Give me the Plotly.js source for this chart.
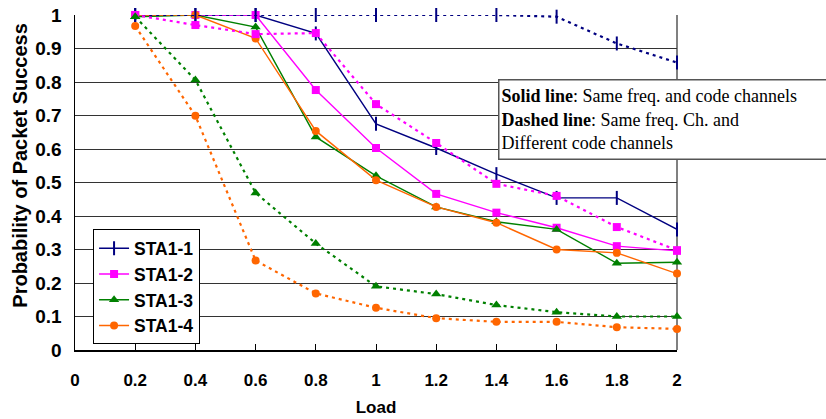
<!DOCTYPE html>
<html>
<head>
<meta charset="utf-8">
<script src="https://cdn.plot.ly/plotly-3.0.1.min.js"></script>
<style>html,body{margin:0;padding:0;background:#fff;}#chart{width:826px;height:419px;}</style>
</head>
<body>
<div id="chart"></div>
<script>
var loads = [0.2, 0.4, 0.6, 0.8, 1.0, 1.2, 1.4, 1.6, 1.8, 2.0];
var seriesNames = ["STA1-1", "STA1-2", "STA1-3", "STA1-4"];

// Solid line: same freq. and code channels
var sta1_1_solid = [1.0, 1.0, 1.0, 0.945, 0.675, 0.603, 0.525, 0.454, 0.454, 0.36];
var sta1_2_solid = [1.0, 1.0, 1.0, 0.776, 0.603, 0.466, 0.41, 0.365, 0.31, 0.296];
var sta1_3_solid = [0.995, 1.0, 0.964, 0.636, 0.52, 0.427, 0.383, 0.36, 0.259, 0.262];
var sta1_4_solid = [1.0, 1.0, 0.93, 0.654, 0.507, 0.427, 0.38, 0.30, 0.29, 0.228];

// Dashed line: same freq. Ch. and different code channels
var sta1_1_dashed = [1.0, 1.0, 1.0, 1.0, 1.0, 1.0, 1.0, 0.995, 0.915, 0.858];
var sta1_2_dashed = [1.0, 0.97, 0.943, 0.946, 0.734, 0.618, 0.496, 0.46, 0.367, 0.298];
var sta1_3_dashed = [0.995, 0.806, 0.469, 0.318, 0.19, 0.167, 0.134, 0.113, 0.10, 0.10];
var sta1_4_dashed = [0.967, 0.699, 0.267, 0.169, 0.126, 0.095, 0.084, 0.084, 0.068, 0.063];

var xTickVals = [0, 0.2, 0.4, 0.6, 0.8, 1, 1.2, 1.4, 1.6, 1.8, 2];
var xTickText = ["0", "0.2", "0.4", "0.6", "0.8", "1", "1.2", "1.4", "1.6", "1.8", "2"];
var yTickVals = [0, 0.1, 0.2, 0.3, 0.4, 0.5, 0.6, 0.7, 0.8, 0.9, 1];
var yTickText = ["0", "0.1", "0.2", "0.3", "0.4", "0.5", "0.6", "0.7", "0.8", "0.9", "1"];

var colors = ["#000080", "#FF00FF", "#008000", "#FF6600"];
var markers = [
  {symbol: "line-ns-open", size: 10, color: colors[0], line: {width: 2, color: colors[0]}},
  {symbol: "square", size: 8, color: colors[1]},
  {symbol: "triangle-up", size: 9, color: colors[2]},
  {symbol: "circle", size: 8, color: colors[3]}
];
var solids = [sta1_1_solid, sta1_2_solid, sta1_3_solid, sta1_4_solid];
var dashed = [sta1_1_dashed, sta1_2_dashed, sta1_3_dashed, sta1_4_dashed];

var traces = [];
for (var i = 0; i < 4; i++) {
  traces.push({
    x: loads, y: solids[i], name: seriesNames[i], legendgroup: seriesNames[i],
    mode: "lines+markers", type: "scatter", cliponaxis: false,
    line: {color: colors[i], width: 1.4},
    marker: markers[i]
  });
}
for (var j = 0; j < 4; j++) {
  traces.push({
    x: loads, y: dashed[j], name: seriesNames[j], legendgroup: seriesNames[j],
    showlegend: false,
    mode: "lines+markers", type: "scatter", cliponaxis: false,
    line: {color: colors[j], width: 2.2, dash: "3px,4px"},
    marker: markers[j]
  });
}

var fontFam = "Arial, 'Liberation Sans', sans-serif";
var layout = {
  width: 826, height: 419,
  margin: {l: 75, r: 149, t: 15, b: 69, pad: 0},
  paper_bgcolor: "#fff", plot_bgcolor: "#fff",
  font: {family: fontFam, color: "#000"},
  showlegend: true,
  xaxis: {
    range: [0, 2], tickvals: xTickVals, ticktext: xTickText,
    ticks: "inside", ticklen: 6, tickwidth: 1, tickcolor: "#000",
    showgrid: false, zeroline: false,
    showline: true, linecolor: "#000", linewidth: 1.5,
    tickfont: {family: fontFam, size: 17, weight: "bold", color: "#000"},
    ticklabelstandoff: 14,
    title: {text: "Load", font: {family: fontFam, size: 17, weight: "bold", color: "#000"}, standoff: 12},
    automargin: false, fixedrange: true
  },
  yaxis: {
    range: [0, 1], tickvals: yTickVals, ticktext: yTickText,
    ticks: "", showgrid: true, gridcolor: "#333", gridwidth: 1,
    zeroline: false, showline: true, linecolor: "#000", linewidth: 1.5,
    tickfont: {family: fontFam, size: 19, weight: "bold", color: "#000"},
    ticklabelstandoff: 8,
    title: {text: ""},
    automargin: false, fixedrange: true
  },
  legend: {
    x: 0.03, y: 0.36, xanchor: "left", yanchor: "top",
    bgcolor: "#fff", bordercolor: "#000", borderwidth: 1,
    font: {family: fontFam, size: 17.5, weight: "bold", color: "#000"},
    itemwidth: 30, tracegroupgap: 0
  },
  shapes: [
    {type: "line", xref: "paper", yref: "paper", x0: 1, x1: 1, y0: 0, y1: 1,
     line: {color: "#808080", width: 2}, layer: "below"}
  ],
  annotations: [
    {
      xref: "paper", yref: "paper", x: -0.092, y: 0.552, xanchor: "center", yanchor: "middle",
      showarrow: false, textangle: -90,
      font: {family: fontFam, size: 20, weight: "bold", color: "#000"},
      text: "Probability of Packet Success"
    },
    {
      xref: "paper", yref: "paper", x: 0.703, y: 0.809, xanchor: "left", yanchor: "top",
      showarrow: false, align: "left", valign: "middle",
      width: 340, height: 74, borderpad: 2,
      bgcolor: "#fff", bordercolor: "#555", borderwidth: 1.5,
      font: {family: "'Times New Roman', 'Liberation Serif', serif", size: 18, color: "#000"},
      text: "<b>Solid line</b>: Same freq. and code channels<br><b>Dashed line</b>: Same freq. Ch. and<br>Different code channels"
    }
  ]
};

Plotly.newPlot("chart", traces, layout, {displayModeBar: false, staticPlot: true});
</script>
</body>
</html>
